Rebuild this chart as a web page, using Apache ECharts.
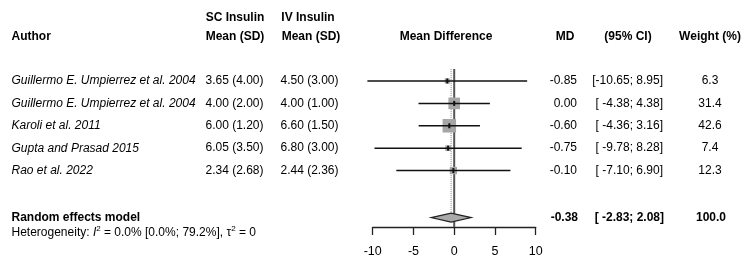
<!DOCTYPE html>
<html>
<head>
<meta charset="utf-8">
<script src="https://cdn.jsdelivr.net/npm/echarts@6/dist/echarts.min.js"></script>
<style>
  html, body { margin: 0; padding: 0; background: #fff; }
  #forest { width: 744px; height: 267px; }
</style>
</head>
<body>
<div id="forest"></div>
<script>
// study data
const authors = [
  'Guillermo E. Umpierrez et al. 2004',
  'Guillermo E. Umpierrez et al. 2004',
  'Karoli et al. 2011',
  'Gupta and Prasad 2015',
  'Rao et al. 2022'
]
const scMean = [3.65, 4.00, 6.00, 6.05, 2.34]
const scSD = [4.00, 2.00, 1.20, 3.50, 2.68]
const ivMean = [4.50, 4.00, 6.60, 6.80, 2.44]
const ivSD = [3.00, 1.00, 1.50, 3.00, 2.36]
const md = [-0.85, 0.00, -0.60, -0.75, -0.10]
const ciLow = [-10.65, -4.38, -4.36, -9.78, -7.10]
const ciHigh = [8.95, 4.38, 3.16, 8.28, 6.90]
const weight = [6.3, 31.4, 42.6, 7.4, 12.3]

// random effects summary
const pooledMD = -0.38
const pooledLow = -2.83
const pooledHigh = 2.08
const pooledWeight = 100.0

const FONT = '"Liberation Sans", Arial, Helvetica, sans-serif'
const POOLED_ROW = 6.1
const HET_ROW = 6.78
const HEAD_ROW = -2
const HEAD_ROW2 = -2.81

const ci = (lo, hi) => '[' + lo.toFixed(2).padStart(6) + '; ' + hi.toFixed(2).padStart(4) + ']'

let studyData = []
for (let i = 0; i < md.length; i++) {
  studyData.push([i, md[i], ciLow[i], ciHigh[i], weight[i]])
}

let myChart = echarts.init(document.getElementById('forest'))

let option = {
  animation: false,
  grid: { left: 372.7, width: 163, top: 13.8, height: 213.2 },
  xAxis: {
    type: 'value',
    min: -10,
    max: 10,
    interval: 5,
    position: 'bottom',
    splitLine: { show: false },
    axisLine: { onZero: false, lineStyle: { color: '#222', width: 1.3 } },
    axisTick: { length: 8, lineStyle: { color: '#222', width: 1.3 } },
    axisLabel: { color: '#000', fontSize: 12.5, fontFamily: FONT, margin: 18 }
  },
  yAxis: {
    type: 'value',
    inverse: true,
    min: -3,
    max: 6.52,
    show: false
  },
  series: [
    {
      // line of no effect
      type: 'line',
      data: [[0, -0.54], [0, 6.52]],
      symbol: 'none',
      lineStyle: { color: '#555', width: 2 },
      z: 1
    },
    {
      // pooled estimate (dotted)
      type: 'line',
      data: [[pooledMD, -0.54], [pooledMD, POOLED_ROW - 0.2]],
      symbol: 'none',
      lineStyle: { color: '#888', width: 1, type: [1, 1] },
      z: 1
    },
    {
      type: 'custom',
      clip: false,
      encode: { x: [1, 2, 3], y: 0 },
      data: studyData,
      z: 3,
      renderItem: function (params, api) {
        const row = api.value(0)
        const pM = api.coord([api.value(1), row])
        const pL = api.coord([api.value(2), row])
        const pH = api.coord([api.value(3), row])
        const side = 13.5 * Math.sqrt(api.value(4) / 42.6)
        return {
          type: 'group',
          children: [
            { type: 'rect', shape: { x: pM[0] - side / 2, y: pM[1] - side / 2, width: side, height: side }, style: { fill: '#a6a6a6' } },
            { type: 'line', shape: { x1: pL[0], y1: pL[1], x2: pH[0], y2: pH[1] }, style: { stroke: '#111', lineWidth: 1.5 } },
            { type: 'rect', shape: { x: pM[0] - 1, y: pM[1] - 2.5, width: 2, height: 5 }, style: { fill: '#111' } }
          ]
        }
      }
    },
    {
      type: 'custom',
      clip: false,
      encode: { x: [1, 2, 3], y: 0 },
      data: [[POOLED_ROW, pooledMD, pooledLow, pooledHigh]],
      z: 3,
      renderItem: function (params, api) {
        const row = api.value(0)
        const pM = api.coord([api.value(1), row])
        const pL = api.coord([api.value(2), row])
        const pH = api.coord([api.value(3), row])
        return {
          type: 'polygon',
          shape: { points: [[pL[0], pL[1]], [pM[0], pM[1] - 4.5], [pH[0], pH[1]], [pM[0], pM[1] + 4.5]] },
          style: { fill: '#aaaaaa', stroke: '#222', lineWidth: 1.2 }
        }
      }
    }
  ]
}

myChart.setOption(option, true)

// text columns, placed on the rows of the y scale
const rowY = r => myChart.convertToPixel({ yAxisIndex: 0 }, r)
let texts = []
function addText (str, x, row, align, opts) {
  opts = opts || {}
  texts.push({
    type: 'text',
    silent: true,
    style: Object.assign({
      text: str,
      x: x,
      y: rowY(row),
      fill: '#000',
      fontSize: 12,
      fontFamily: FONT,
      fontWeight: opts.bold ? 'bold' : 'normal',
      fontStyle: opts.italic ? 'italic' : 'normal',
      align: align,
      textAlign: align,
      verticalAlign: 'middle',
      textVerticalAlign: 'middle'
    }, opts.extra || {})
  })
}

// headers
addText('Author', 11.5, HEAD_ROW, 'left', { bold: true })
addText('SC Insulin', 235, HEAD_ROW2, 'center', { bold: true })
addText('Mean (SD)', 235, HEAD_ROW, 'center', { bold: true })
addText('IV Insulin', 308, HEAD_ROW2, 'center', { bold: true })
addText('Mean (SD)', 311, HEAD_ROW, 'center', { bold: true })
addText('Mean Difference', 446, HEAD_ROW, 'center', { bold: true })
addText('MD', 565, HEAD_ROW, 'center', { bold: true })
addText('(95% CI)', 628, HEAD_ROW, 'center', { bold: true })
addText('Weight (%)', 710, HEAD_ROW, 'center', { bold: true })

// study rows
for (let i = 0; i < authors.length; i++) {
  addText(authors[i], 11.5, i, 'left', { italic: true })
  addText(scMean[i].toFixed(2) + ' (' + scSD[i].toFixed(2) + ')', 205.5, i, 'left')
  addText(ivMean[i].toFixed(2) + ' (' + ivSD[i].toFixed(2) + ')', 280.5, i, 'left')
  addText(md[i].toFixed(2), 577, i, 'right')
  addText(ci(ciLow[i], ciHigh[i]), 663, i, 'right')
  addText(weight[i].toFixed(1), 710, i, 'center')
}

// pooled row
addText('Random effects model', 11.5, POOLED_ROW, 'left', { bold: true })
addText(pooledMD.toFixed(2), 578, POOLED_ROW, 'right', { bold: true })
addText(ci(pooledLow, pooledHigh), 664, POOLED_ROW, 'right', { bold: true })
addText(pooledWeight.toFixed(1), 711, POOLED_ROW, 'center', { bold: true })

// heterogeneity
addText('Heterogeneity: {i|I}{sup|2} = 0.0% [0.0%; 79.2%], \u03c4{sup|2} = 0', 11.5, HET_ROW, 'left', {
  extra: {
    rich: {
      i: { fontStyle: 'italic', fontSize: 12, fontFamily: FONT, fill: '#000' },
      sup: { fontSize: 8, fontFamily: FONT, fill: '#000', padding: [0, 0, 8, 0] }
    }
  }
})

myChart.setOption({ graphic: texts })
</script>
</body>
</html>
